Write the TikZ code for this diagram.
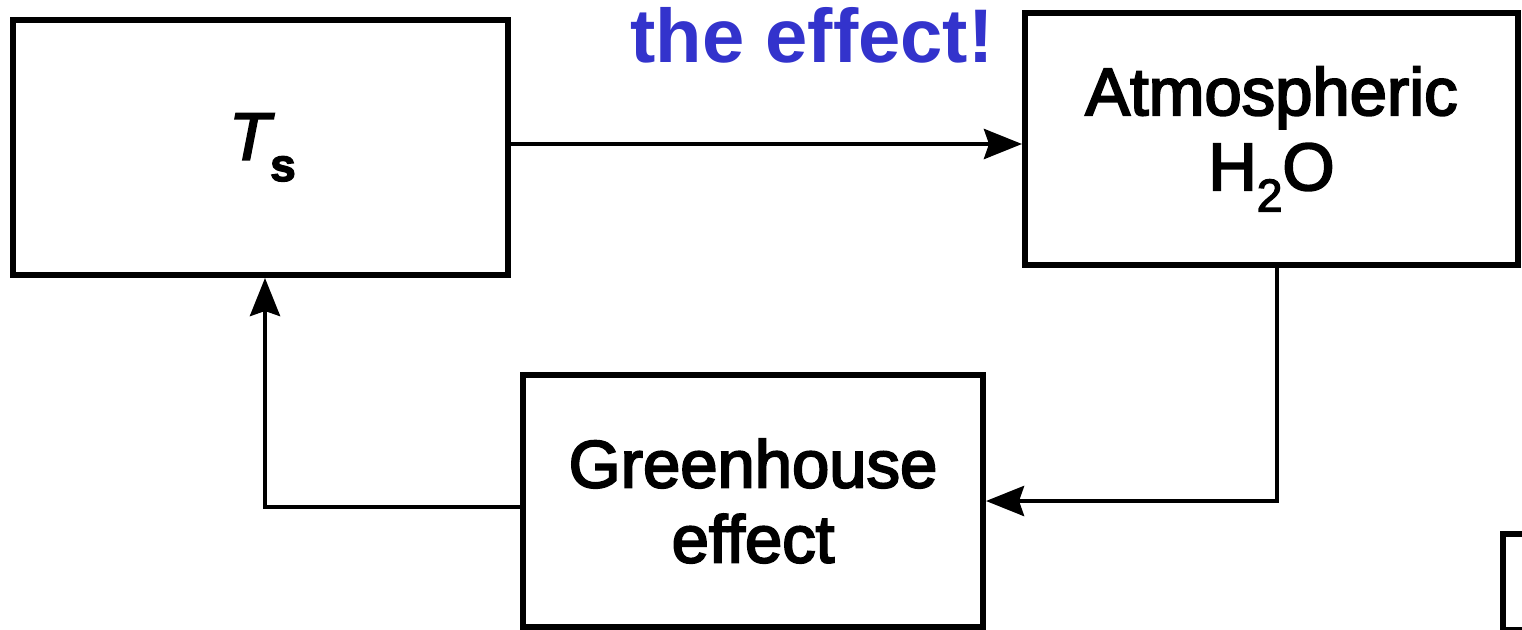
\documentclass[tikz,border=0pt]{standalone}
\usepackage{fontspec}
\setmainfont{Liberation Sans}
\newfontfamily\scanfont[FakeBold=3]{Liberation Sans}
\usetikzlibrary{arrows.meta}
\definecolor{titleblue}{RGB}{51,51,204}
\tikzset{
  box/.style={draw=black, line width=6pt, fill=white, inner sep=0pt, align=center,
    font=\scanfont\fontsize{67}{75}\selectfont},
  arr/.style={line width=4.5pt, -{Stealth[length=38pt,width=30pt,inset=5pt]}},
  title/.style={text=titleblue, font=\fontsize{76}{80}\selectfont\bfseries}
}
\begin{document}
\begin{tikzpicture}[x=1pt,y=-1pt]
  \useasboundingbox[fill=white] (0,0) rectangle (1522,629);
  \clip (0,0) rectangle (1522,629);
  \node[box, minimum width=495pt, minimum height=255pt] (ts) at (260.5,147.5)
    {\hspace*{4pt}{\itshape T}\raisebox{-0.32em}{\fontsize{46}{50}\selectfont\bfseries s}};
  \node[box, minimum width=493pt, minimum height=252pt] (atm) at (1271.5,139)
    {Atmospheric\\H\raisebox{-0.32em}{\fontsize{46}{50}\selectfont 2}O};
  \node[box, minimum width=460pt, minimum height=252pt] (gh) at (753,501)
    {Greenhouse\\effect};
  \node[box, minimum width=60pt, minimum height=96pt, anchor=north west] (cut) at (1500,531) {};
  \node[title, anchor=base] (ttl) at (812,62) {the effect!};
  \draw[arr] (ts.east |- 0,144) -- (atm.west |- 0,144);
  \draw[arr] (atm.south -| 1277,0) |- (gh.east |- 0,501);
  \draw[arr] (gh.west |- 0,507) -| (ts.south -| 265,0);
\end{tikzpicture}
\end{document}
